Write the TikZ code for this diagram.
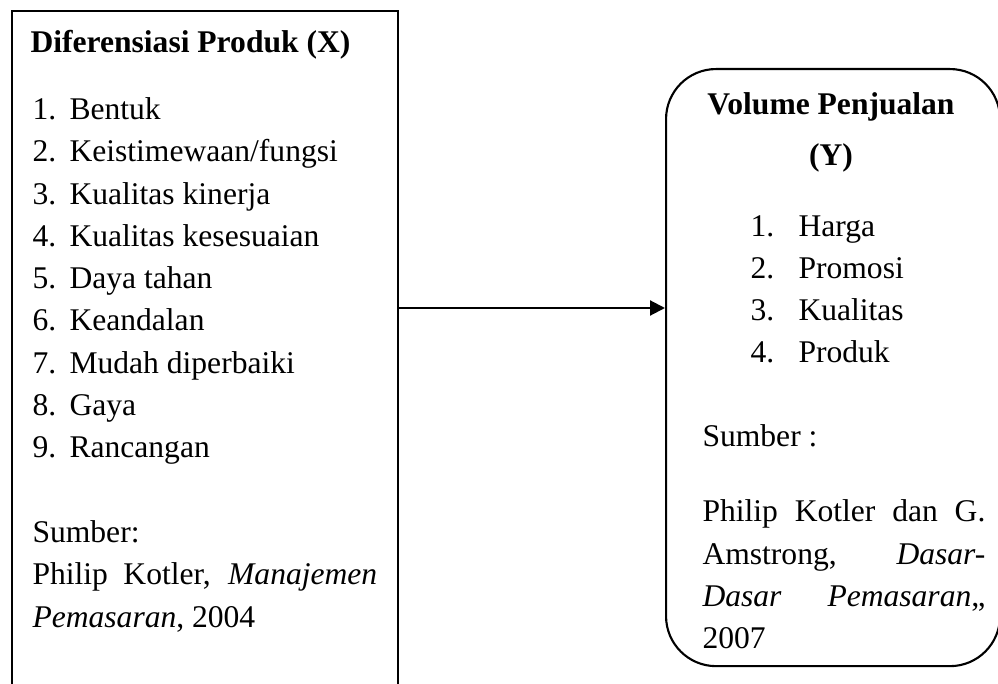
\documentclass[tikz,border=0pt]{standalone}
\usepackage{fontspec}
\setmainfont{Liberation Serif}
\usetikzlibrary{arrows.meta,positioning}

\newcommand\txtsize{\fontsize{12}{16.07}\selectfont}

\tikzset{
	frame/.style={draw, line width=0.8pt, inner sep=0pt, anchor=north west},
	txt/.style={anchor=base west, inner sep=0pt, font=\txtsize},
	para/.style={txt, text width=#1, align=justify,
		execute at begin node={\tolerance=9999\hyphenpenalty=10000}},
}

\begin{document}
\begin{tikzpicture}[x=0.38pt, y=-0.38pt]
	\clip (0,0) rectangle (998,684);
	
	\node[frame, minimum width=146.7pt, minimum height=270pt](xbox) at (11,10){};
	\node[frame, rounded corners=19pt, minimum width=126.9pt, minimum height=226.9pt](ybox) at (665,68){};
	
	% variabel X
	\node[txt, font=\txtsize\bfseries](xtitle) at (30,53){Diferensiasi Produk (X)};
	\foreach \t [count=\i] in {Bentuk, Keistimewaan/fungsi, Kualitas kinerja, Kualitas kesesuaian, Daya tahan, Keandalan, Mudah diperbaiki, Gaya, Rancangan}{
		\node[txt](xnum\i) at (32,{119.5+42.3*(\i-1)}){\i.};
		\node[txt](xind\i) at (69,{119.5+42.3*(\i-1)}){\t};
	}
	\node[txt](xsrc) at (32,543){Sumber:};
	\node[para=131pt](xref) at (32,585){Philip Kotler, \textit{Manajemen Pemasaran}, 2004};
	
	% variabel Y
	\node[anchor=base, inner sep=0pt, font=\txtsize\bfseries](ytitle) at (831,115){Volume Penjualan};
	\node[anchor=base, inner sep=0pt, font=\txtsize\bfseries](yvar) at (831,166){(Y)};
	\foreach \t [count=\i] in {Harga, Promosi, Kualitas, Produk}{
		\node[txt](ynum\i) at (750,{237+41.7*(\i-1)}){\i.};
		\node[txt](yind\i) at (798,{237+41.7*(\i-1)}){\t};
	}
	\node[txt](ysrc) at (702,447){Sumber :};
	\node[para=107.5pt](yref) at (702,522){Philip Kotler dan G. Amstrong, \textit{Dasar-Dasar Pemasaran},, 2007};
	
	\coordinate (arr) at (530,308);
	\draw[line width=0.8pt, -{Triangle[length=5.7pt, width=5.7pt]}] (xbox.east |- arr) -- (ybox.west |- arr);
\end{tikzpicture}
\end{document}
